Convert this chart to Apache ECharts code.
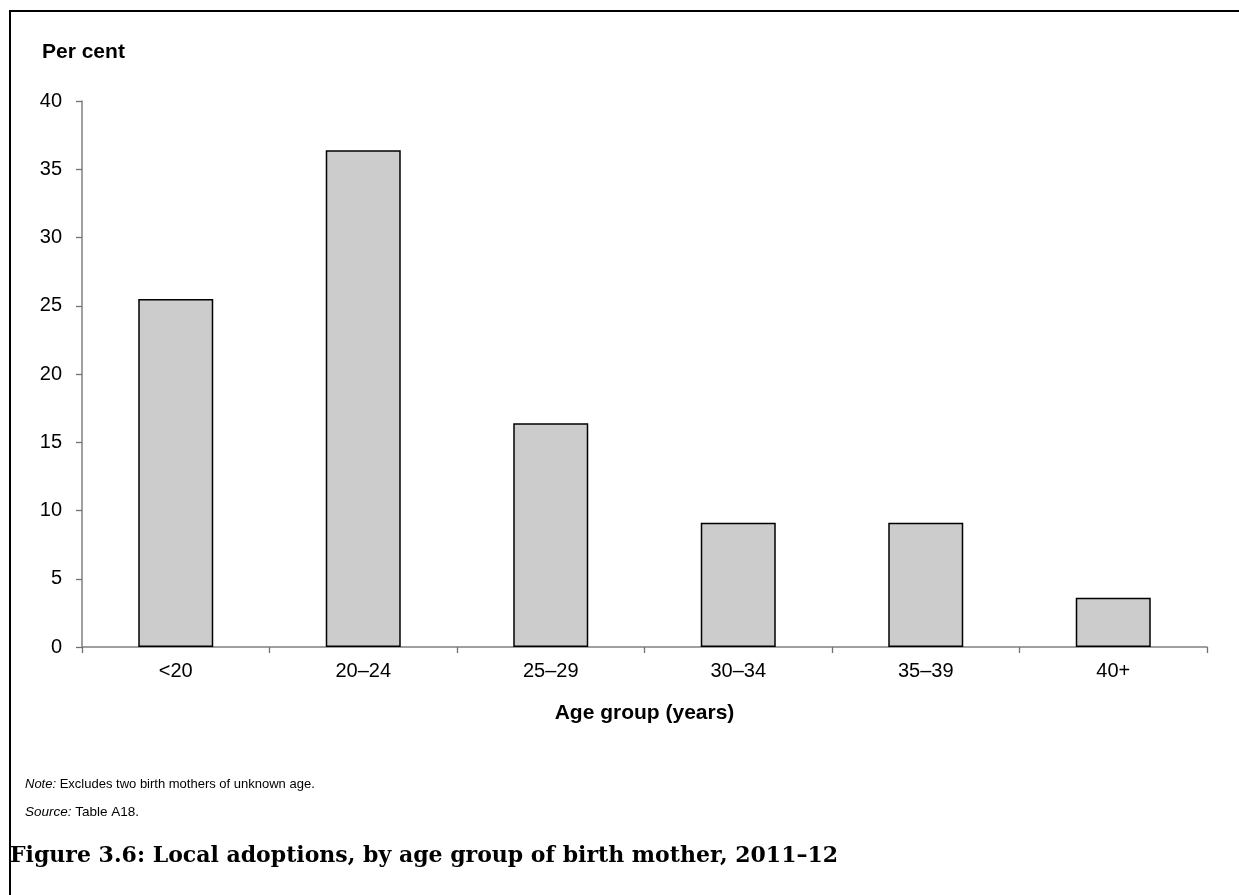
<!DOCTYPE html>
<html>
<head>
<meta charset="utf-8">
<script src="https://cdn.jsdelivr.net/npm/echarts@6/dist/echarts.min.js"></script>
<style>
html,body{margin:0;padding:0;background:#fff;}
#chart{width:1239px;height:895px;}
</style>
</head>
<body>
<div id="chart"></div>
<script>
const categories = ['<20', '20–24', '25–29', '30–34', '35–39', '40+'];
const values = [25.5, 36.4, 16.4, 9.1, 9.1, 3.6];
const yTicks = { min: 0, max: 40, interval: 5 };
const yName = 'Per cent';
const xName = 'Age group (years)';
const noteLabel = 'Note:';
const noteText = ' Excludes two birth mothers of unknown age.';
const sourceLabel = 'Source:';
const sourceText = ' Table A18.';
const figTitle = 'Figure 3.6: Local adoptions, by age group of birth mother, 2011–12';

const chart = echarts.init(document.getElementById('chart'), null, { renderer: 'canvas' });
const sans = '"Liberation Sans", Arial, sans-serif';
const gridLeft = 82, gridRight = 32;
chart.setOption({
  animation: false,
  backgroundColor: '#fff',
  grid: { left: gridLeft, right: gridRight, top: 101, bottom: 248, containLabel: false },
  xAxis: {
    type: 'category',
    data: categories,
    boundaryGap: true,
    axisLine: { lineStyle: { color: '#808080', width: 1.5 } },
    axisTick: { show: true, length: 6, alignWithLabel: false, lineStyle: { color: '#707070', width: 1.3 } },
    axisLabel: { color: '#000', fontFamily: sans, fontSize: 20, margin: 14 },
    splitLine: { show: false }
  },
  yAxis: {
    type: 'value',
    min: yTicks.min, max: yTicks.max, interval: yTicks.interval,
    axisLine: { show: true, lineStyle: { color: '#808080', width: 1.5 } },
    axisTick: { show: true, length: 6, inside: false, lineStyle: { color: '#707070', width: 1.3 } },
    axisLabel: { color: '#000', fontFamily: sans, fontSize: 20, margin: 20 },
    splitLine: { show: false }
  },
  series: [{
    type: 'bar',
    data: values,
    barCategoryGap: '60%',
    itemStyle: { color: '#CCCCCC', borderColor: '#000', borderWidth: 1.5 }
  }],
  graphic: [
    { type: 'rect', silent: true, z: 100,
      shape: { x: 10, y: 11, width: 1260, height: 920 },
      style: { fill: null, stroke: '#000', lineWidth: 2 } },
    { type: 'text', left: 42, top: 42,
      style: { text: yName, font: 'bold 21px ' + sans, fill: '#000' } },
    { type: 'text', x: (gridLeft + 1239 - gridRight) / 2, y: 713,
      style: { text: xName, font: 'bold 21px ' + sans, fill: '#000', align: 'center', verticalAlign: 'middle' } },
    { type: 'text', left: 25, top: 778,
      style: { rich: { i: { fontStyle: 'italic', fontFamily: sans, fontSize: 13, fill: '#000' }, n: { fontFamily: sans, fontSize: 13, fill: '#000' } },
               text: '{i|' + noteLabel + '}{n|' + noteText + '}' } },
    { type: 'text', left: 25, top: 805,
      style: { rich: { i: { fontStyle: 'italic', fontFamily: sans, fontSize: 13.5, fill: '#000' }, n: { fontFamily: sans, fontSize: 13.5, fill: '#000' } },
               text: '{i|' + sourceLabel + '}{n|' + sourceText + '}' } },
    { type: 'text', left: 10, top: 845,
      style: { text: figTitle, font: 'bold 22px "DejaVu Serif", serif', fill: '#000' } }
  ]
});
</script>
</body>
</html>
